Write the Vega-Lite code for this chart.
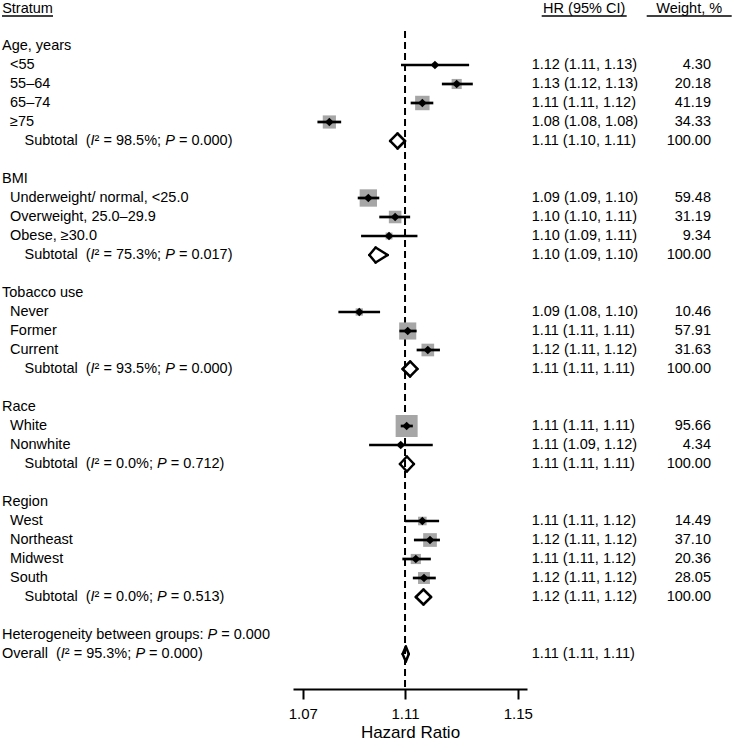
{
  "$schema": "https://vega.github.io/schema/vega-lite/v6.json",
  "padding": 0,
  "spacing": 0,
  "bounds": "flush",
  "background": "white",
  "config": {
    "view": {"stroke": null},
    "font": "Liberation Sans",
    "text": {"fontSize": 14.5, "color": "#000000", "font": "Liberation Sans"}
  },
  "datasets": {
    "rows": [
      {"row": 0, "kind": "group", "label": "Age, years"},
      {"row": 1, "kind": "item", "label": "<55", "est": 1.1210, "lo": 1.1085, "hi": 1.1332, "hr": "1.12 (1.11, 1.13)", "weight": 4.30},
      {"row": 2, "kind": "item", "label": "55–64", "est": 1.1288, "lo": 1.1235, "hi": 1.1345, "hr": "1.13 (1.12, 1.13)", "weight": 20.18},
      {"row": 3, "kind": "item", "label": "65–74", "est": 1.1164, "lo": 1.1121, "hi": 1.1204, "hr": "1.11 (1.11, 1.12)", "weight": 41.19},
      {"row": 4, "kind": "item", "label": "≥75", "est": 1.0808, "lo": 1.0760, "hi": 1.0855, "hr": "1.08 (1.08, 1.08)", "weight": 34.33},
      {"row": 5, "kind": "subtotal", "label": "Subtotal\u00a0 (", "i2": "² = 98.5%;", "p": "= 0.000)", "est": 1.1072, "lo": 1.1044, "hi": 1.1100, "hr": "1.11 (1.10, 1.11)", "weight": 100},
      {"row": 7, "kind": "group", "label": "BMI"},
      {"row": 8, "kind": "item", "label": "Underweight/ normal, <25.0", "est": 1.0961, "lo": 1.0920, "hi": 1.1003, "hr": "1.09 (1.09, 1.10)", "weight": 59.48},
      {"row": 9, "kind": "item", "label": "Overweight, 25.0–29.9", "est": 1.1063, "lo": 1.1003, "hi": 1.1119, "hr": "1.10 (1.10, 1.11)", "weight": 31.19},
      {"row": 10, "kind": "item", "label": "Obese, ≥30.0", "est": 1.1040, "lo": 1.0933, "hi": 1.1146, "hr": "1.10 (1.09, 1.11)", "weight": 9.34},
      {"row": 11, "kind": "subtotal", "label": "Subtotal\u00a0 (", "i2": "² = 75.3%;", "p": "= 0.017)", "est": 1.0989, "lo": 1.0965, "hi": 1.1035, "hr": "1.10 (1.09, 1.10)", "weight": 100},
      {"row": 13, "kind": "group", "label": "Tobacco use"},
      {"row": 14, "kind": "item", "label": "Never", "est": 1.0926, "lo": 1.0844, "hi": 1.1006, "hr": "1.09 (1.08, 1.10)", "weight": 10.46},
      {"row": 15, "kind": "item", "label": "Former", "est": 1.1110, "lo": 1.1079, "hi": 1.1143, "hr": "1.11 (1.11, 1.11)", "weight": 57.91},
      {"row": 16, "kind": "item", "label": "Current", "est": 1.1184, "lo": 1.1143, "hi": 1.1228, "hr": "1.12 (1.11, 1.12)", "weight": 31.63},
      {"row": 17, "kind": "subtotal", "label": "Subtotal\u00a0 (", "i2": "² = 93.5%;", "p": "= 0.000)", "est": 1.1119, "lo": 1.1091, "hi": 1.1146, "hr": "1.11 (1.11, 1.11)", "weight": 100},
      {"row": 19, "kind": "group", "label": "Race"},
      {"row": 20, "kind": "item", "label": "White", "est": 1.1106, "lo": 1.1084, "hi": 1.1129, "hr": "1.11 (1.11, 1.11)", "weight": 95.66},
      {"row": 21, "kind": "item", "label": "Nonwhite", "est": 1.1084, "lo": 1.0964, "hi": 1.1202, "hr": "1.11 (1.09, 1.12)", "weight": 4.34},
      {"row": 22, "kind": "subtotal", "label": "Subtotal\u00a0 (", "i2": "² = 0.0%;", "p": "= 0.712)", "est": 1.1107, "lo": 1.1081, "hi": 1.1133, "hr": "1.11 (1.11, 1.11)", "weight": 100},
      {"row": 24, "kind": "group", "label": "Region"},
      {"row": 25, "kind": "item", "label": "West", "est": 1.1164, "lo": 1.1100, "hi": 1.1225, "hr": "1.11 (1.11, 1.12)", "weight": 14.49},
      {"row": 26, "kind": "item", "label": "Northeast", "est": 1.1192, "lo": 1.1133, "hi": 1.1228, "hr": "1.12 (1.11, 1.12)", "weight": 37.10},
      {"row": 27, "kind": "item", "label": "Midwest", "est": 1.1140, "lo": 1.1090, "hi": 1.1195, "hr": "1.11 (1.11, 1.12)", "weight": 20.36},
      {"row": 28, "kind": "item", "label": "South", "est": 1.1170, "lo": 1.1129, "hi": 1.1213, "hr": "1.12 (1.11, 1.12)", "weight": 28.05},
      {"row": 29, "kind": "subtotal", "label": "Subtotal\u00a0 (", "i2": "² = 0.0%;", "p": "= 0.513)", "est": 1.1168, "lo": 1.1140, "hi": 1.1196, "hr": "1.12 (1.11, 1.12)", "weight": 100},
      {"row": 31, "kind": "note", "label": "Heterogeneity between groups:", "p": "= 0.000"},
      {"row": 32, "kind": "overall", "label": "Overall\u00a0 (", "i2": "² = 95.3%;", "p": "= 0.000)", "est": 1.1103, "lo": 1.1091, "hi": 1.1114, "hr": "1.11 (1.11, 1.11)"}
    ]
  },
  "resolve": {"scale": {"x": "independent", "y": "shared"}},
  "hconcat": [
    {
      "width": 293,
      "height": 688,
      "layer": [
        {
          "data": {"values": [{"col": "Stratum"}]},
          "mark": {"type": "text", "align": "center", "baseline": "middle"},
          "encoding": {
            "x": {"field": "col", "type": "nominal", "scale": {"type": "band", "domain": ["Stratum"], "range": [2, 53], "paddingInner": 0, "paddingOuter": 0}, "axis": null},
            "y": {"datum": -1.95, "type": "quantitative", "scale": {"domain": [-2.368, 33.842], "reverse": true, "nice": false, "zero": false}, "axis": null},
            "text": {"field": "col"}
          }
        },
        {
          "data": {"values": [{"col": "Stratum"}]},
          "mark": {"type": "rect", "color": "#000000"},
          "encoding": {
            "x": {"field": "col", "type": "nominal"},
            "y": {"datum": -1.62, "type": "quantitative"},
            "y2": {"datum": -1.54}
          }
        },
        {
          "data": {"name": "rows"},
          "transform": [{"filter": {"field": "kind", "oneOf": ["group", "note", "overall"]}}],
          "mark": {"type": "text", "align": "left", "baseline": "middle", "dx": 0},
          "encoding": {"x": {"datum": "Stratum", "type": "nominal", "bandPosition": 0}, "y": {"field": "row", "type": "quantitative"}, "text": {"field": "label"}}
        },
        {
          "data": {"name": "rows"},
          "transform": [{"filter": {"field": "kind", "equal": "item"}}],
          "mark": {"type": "text", "align": "left", "baseline": "middle", "dx": 8},
          "encoding": {"x": {"datum": "Stratum", "type": "nominal", "bandPosition": 0}, "y": {"field": "row", "type": "quantitative"}, "text": {"field": "label"}}
        },
        {
          "data": {"name": "rows"},
          "transform": [{"filter": {"field": "kind", "equal": "subtotal"}}],
          "mark": {"type": "text", "align": "left", "baseline": "middle", "dx": 22.5},
          "encoding": {"x": {"datum": "Stratum", "type": "nominal", "bandPosition": 0}, "y": {"field": "row", "type": "quantitative"}, "text": {"field": "label"}}
        },
        {
          "data": {"name": "rows"},
          "transform": [{"filter": {"field": "kind", "equal": "subtotal"}}],
          "mark": {"type": "text", "align": "left", "baseline": "middle", "dx": 88.6, "fontStyle": "italic", "text": "I"},
          "encoding": {"x": {"datum": "Stratum", "type": "nominal", "bandPosition": 0}, "y": {"field": "row", "type": "quantitative"}}
        },
        {
          "data": {"name": "rows"},
          "transform": [{"filter": {"field": "kind", "equal": "overall"}}],
          "mark": {"type": "text", "align": "left", "baseline": "middle", "dx": 58.8, "fontStyle": "italic", "text": "I"},
          "encoding": {"x": {"datum": "Stratum", "type": "nominal", "bandPosition": 0}, "y": {"field": "row", "type": "quantitative"}}
        },
        {
          "data": {"name": "rows"},
          "transform": [{"filter": {"field": "kind", "equal": "subtotal"}}],
          "mark": {"type": "text", "align": "left", "baseline": "middle", "dx": 92.6},
          "encoding": {"x": {"datum": "Stratum", "type": "nominal", "bandPosition": 0}, "y": {"field": "row", "type": "quantitative"}, "text": {"field": "i2"}}
        },
        {
          "data": {"name": "rows"},
          "transform": [{"filter": {"field": "kind", "equal": "overall"}}],
          "mark": {"type": "text", "align": "left", "baseline": "middle", "dx": 62.8},
          "encoding": {"x": {"datum": "Stratum", "type": "nominal", "bandPosition": 0}, "y": {"field": "row", "type": "quantitative"}, "text": {"field": "i2"}}
        },
        {
          "data": {"name": "rows"},
          "transform": [{"filter": "datum.kind == 'subtotal' && length(datum.i2) > 9"}],
          "mark": {"type": "text", "align": "left", "baseline": "middle", "dx": 163.2, "fontStyle": "italic", "text": "P"},
          "encoding": {"x": {"datum": "Stratum", "type": "nominal", "bandPosition": 0}, "y": {"field": "row", "type": "quantitative"}}
        },
        {
          "data": {"name": "rows"},
          "transform": [{"filter": "datum.kind == 'subtotal' && length(datum.i2) > 9"}],
          "mark": {"type": "text", "align": "left", "baseline": "middle", "dx": 176.9},
          "encoding": {"x": {"datum": "Stratum", "type": "nominal", "bandPosition": 0}, "y": {"field": "row", "type": "quantitative"}, "text": {"field": "p"}}
        },
        {
          "data": {"name": "rows"},
          "transform": [{"filter": "datum.kind == 'subtotal' && length(datum.i2) <= 9"}],
          "mark": {"type": "text", "align": "left", "baseline": "middle", "dx": 155.1, "fontStyle": "italic", "text": "P"},
          "encoding": {"x": {"datum": "Stratum", "type": "nominal", "bandPosition": 0}, "y": {"field": "row", "type": "quantitative"}}
        },
        {
          "data": {"name": "rows"},
          "transform": [{"filter": "datum.kind == 'subtotal' && length(datum.i2) <= 9"}],
          "mark": {"type": "text", "align": "left", "baseline": "middle", "dx": 168.8},
          "encoding": {"x": {"datum": "Stratum", "type": "nominal", "bandPosition": 0}, "y": {"field": "row", "type": "quantitative"}, "text": {"field": "p"}}
        },
        {
          "data": {"name": "rows"},
          "transform": [{"filter": {"field": "kind", "equal": "overall"}}],
          "mark": {"type": "text", "align": "left", "baseline": "middle", "dx": 133.4, "fontStyle": "italic", "text": "P"},
          "encoding": {"x": {"datum": "Stratum", "type": "nominal", "bandPosition": 0}, "y": {"field": "row", "type": "quantitative"}}
        },
        {
          "data": {"name": "rows"},
          "transform": [{"filter": {"field": "kind", "equal": "overall"}}],
          "mark": {"type": "text", "align": "left", "baseline": "middle", "dx": 147.1},
          "encoding": {"x": {"datum": "Stratum", "type": "nominal", "bandPosition": 0}, "y": {"field": "row", "type": "quantitative"}, "text": {"field": "p"}}
        },
        {
          "data": {"name": "rows"},
          "transform": [{"filter": {"field": "kind", "equal": "note"}}],
          "mark": {"type": "text", "align": "left", "baseline": "middle", "dx": 205.5, "fontStyle": "italic", "text": "P"},
          "encoding": {"x": {"datum": "Stratum", "type": "nominal", "bandPosition": 0}, "y": {"field": "row", "type": "quantitative"}}
        },
        {
          "data": {"name": "rows"},
          "transform": [{"filter": {"field": "kind", "equal": "note"}}],
          "mark": {"type": "text", "align": "left", "baseline": "middle", "dx": 219.2},
          "encoding": {"x": {"datum": "Stratum", "type": "nominal", "bandPosition": 0}, "y": {"field": "row", "type": "quantitative"}, "text": {"field": "p"}}
        }
      ]
    },
    {
      "width": 234,
      "height": 688,
      "data": {"name": "rows"},
      "layer": [
        {
          "data": {"values": [{}]},
          "mark": {"type": "rule", "color": "#000000", "strokeWidth": 2, "strokeDash": [7, 4]},
          "encoding": {
            "x": {
              "datum": 1.11, "type": "quantitative", "title": "Hazard Ratio",
              "scale": {"type": "pow", "exponent": 3.7, "domain": [1.06598, 1.15311], "nice": false, "zero": false},
              "axis": {
                "values": [1.07, 1.11, 1.15], "format": ".2f", "title": "Hazard Ratio", "grid": false,
                "domainColor": "#000000", "domainWidth": 2, "tickColor": "#000000", "tickWidth": 2, "tickSize": 10,
                "labelFont": "Liberation Sans", "labelFontSize": 15, "labelColor": "#000000", "labelPadding": 7,
                "labelFlush": false, "labelOverlap": false,
                "titleFont": "Liberation Sans", "titleFontSize": 17, "titleFontWeight": "normal", "titleColor": "#000000", "titlePadding": 3
              }
            },
            "y": {"datum": -0.79, "type": "quantitative", "scale": {"domain": [-2.368, 33.842], "reverse": true, "nice": false, "zero": false}, "axis": null},
            "y2": {"datum": 33.842}
          }
        },
        {
          "transform": [{"filter": {"field": "kind", "equal": "item"}}],
          "mark": {"type": "point", "shape": "square", "filled": true, "color": "#a6a6a6", "opacity": 1, "strokeWidth": 0},
          "encoding": {
            "x": {"field": "est", "type": "quantitative", "title": "Hazard Ratio"},
            "y": {"field": "row", "type": "quantitative"},
            "size": {"field": "weight", "type": "quantitative", "scale": {"domain": [0, 100], "range": [0, 506]}, "legend": null}
          }
        },
        {
          "transform": [{"filter": {"field": "kind", "equal": "item"}}],
          "mark": {"type": "rule", "color": "#000000", "strokeWidth": 2.7},
          "encoding": {
            "x": {"field": "lo", "type": "quantitative", "title": "Hazard Ratio"},
            "x2": {"field": "hi"},
            "y": {"field": "row", "type": "quantitative"}
          }
        },
        {
          "transform": [{"filter": {"field": "kind", "equal": "item"}}],
          "mark": {"type": "point", "shape": "diamond", "filled": true, "color": "#000000", "opacity": 1, "size": 76, "strokeWidth": 0},
          "encoding": {
            "x": {"field": "est", "type": "quantitative", "title": "Hazard Ratio"},
            "y": {"field": "row", "type": "quantitative"}
          }
        },
        {
          "transform": [{"filter": {"field": "kind", "oneOf": ["subtotal", "overall"]}}],
          "mark": {"type": "rule", "color": "#000000", "strokeWidth": 2.5, "strokeCap": "round", "y2Offset": -7.5},
          "encoding": {
            "x": {"field": "lo", "type": "quantitative", "title": "Hazard Ratio"},
            "x2": {"field": "est"},
            "y": {"field": "row", "type": "quantitative"},
            "y2": {"field": "row"}
          }
        },
        {
          "transform": [{"filter": {"field": "kind", "oneOf": ["subtotal", "overall"]}}],
          "mark": {"type": "rule", "color": "#000000", "strokeWidth": 2.5, "strokeCap": "round", "yOffset": -7.5},
          "encoding": {
            "x": {"field": "est", "type": "quantitative", "title": "Hazard Ratio"},
            "x2": {"field": "hi"},
            "y": {"field": "row", "type": "quantitative"},
            "y2": {"field": "row"}
          }
        },
        {
          "transform": [{"filter": {"field": "kind", "oneOf": ["subtotal", "overall"]}}],
          "mark": {"type": "rule", "color": "#000000", "strokeWidth": 2.5, "strokeCap": "round", "y2Offset": 7.5},
          "encoding": {
            "x": {"field": "lo", "type": "quantitative", "title": "Hazard Ratio"},
            "x2": {"field": "est"},
            "y": {"field": "row", "type": "quantitative"},
            "y2": {"field": "row"}
          }
        },
        {
          "transform": [{"filter": {"field": "kind", "oneOf": ["subtotal", "overall"]}}],
          "mark": {"type": "rule", "color": "#000000", "strokeWidth": 2.5, "strokeCap": "round", "yOffset": 7.5},
          "encoding": {
            "x": {"field": "est", "type": "quantitative", "title": "Hazard Ratio"},
            "x2": {"field": "hi"},
            "y": {"field": "row", "type": "quantitative"},
            "y2": {"field": "row"}
          }
        }
      ]
    },
    {
      "width": 205,
      "height": 688,
      "data": {"name": "rows"},
      "layer": [
        {
          "transform": [{"filter": "datum.hr != null"}],
          "mark": {"type": "text", "align": "left", "baseline": "middle", "dx": -10},
          "encoding": {
            "x": {"datum": "HR (95% CI)", "type": "nominal", "bandPosition": 0, "scale": {"type": "band", "domain": ["HR (95% CI)", "Weight, %"], "range": [14.7, 204.7], "paddingInner": 0.1905, "paddingOuter": 0}, "axis": null},
            "y": {"field": "row", "type": "quantitative", "scale": {"domain": [-2.368, 33.842], "reverse": true, "nice": false, "zero": false}, "axis": null},
            "text": {"field": "hr"}
          }
        },
        {
          "transform": [{"filter": "datum.weight != null"}],
          "mark": {"type": "text", "align": "right", "baseline": "middle", "dx": -20.7},
          "encoding": {
            "x": {"datum": "Weight, %", "type": "nominal", "bandPosition": 1},
            "y": {"field": "row", "type": "quantitative"},
            "text": {"field": "weight", "type": "quantitative", "format": ".2f"}
          }
        },
        {
          "data": {"values": [{"col": "HR (95% CI)"}, {"col": "Weight, %"}]},
          "mark": {"type": "text", "align": "center", "baseline": "middle"},
          "encoding": {
            "x": {"field": "col", "type": "nominal"},
            "y": {"datum": -1.95, "type": "quantitative"},
            "text": {"field": "col"}
          }
        },
        {
          "data": {"values": [{"col": "HR (95% CI)"}, {"col": "Weight, %"}]},
          "mark": {"type": "rect", "color": "#000000"},
          "encoding": {
            "x": {"field": "col", "type": "nominal"},
            "y": {"datum": -1.62, "type": "quantitative"},
            "y2": {"datum": -1.54}
          }
        }
      ]
    }
  ]
}
